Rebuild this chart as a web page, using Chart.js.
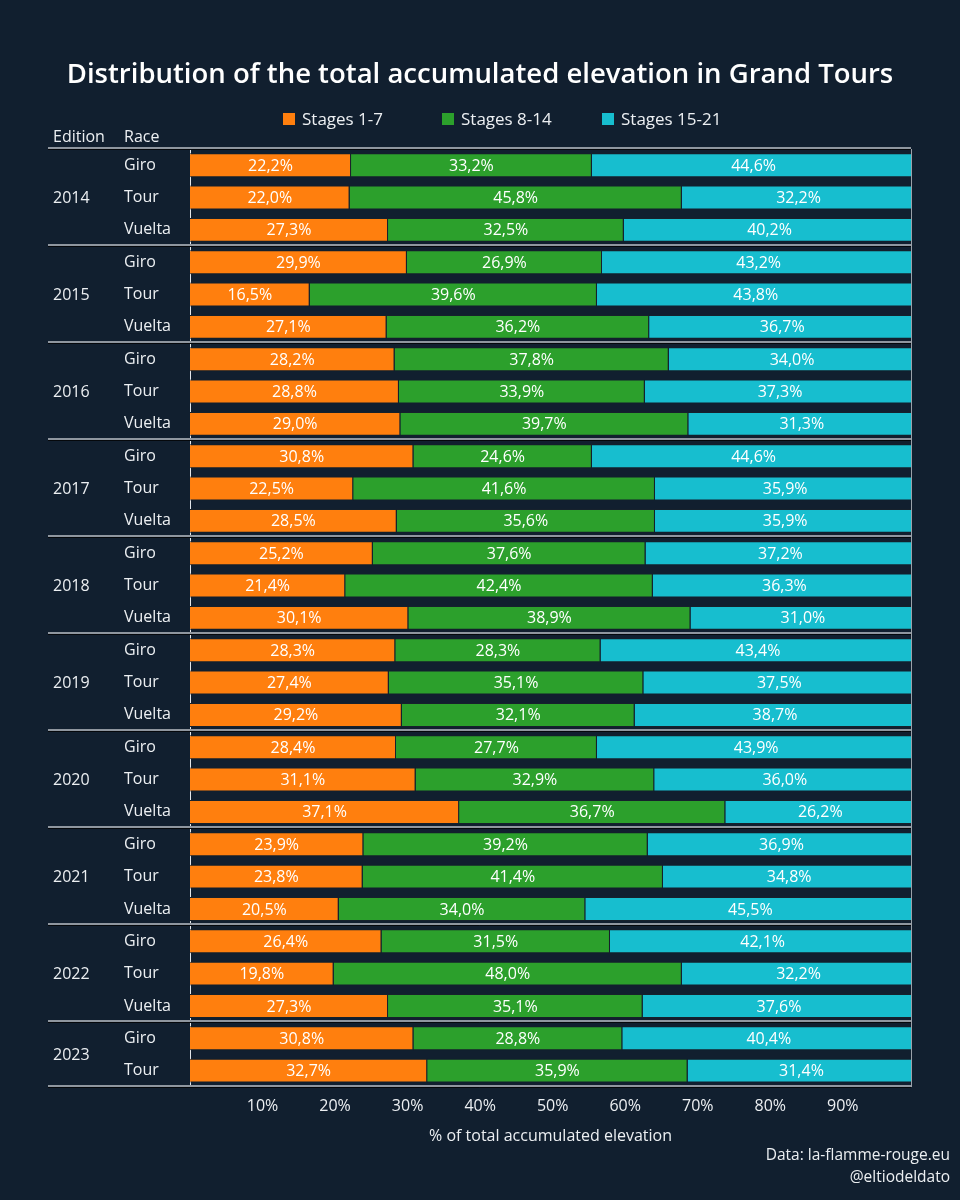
<!DOCTYPE html>
<html>
<head>
<meta charset="utf-8">
<title>Grand Tours elevation</title>
<script src="https://cdn.jsdelivr.net/npm/chart.js@4.4.0/dist/chart.umd.min.js"></script>
<style>
  html, body { margin: 0; background: #111f2f; }
  #wrap { width: 960px; height: 1200px; position: relative; }
</style>
</head>
<body>
<div id="wrap"><canvas id="chart"></canvas></div>
<script>
const editions = ['2014', '2015', '2016', '2017', '2018', '2019', '2020', '2021', '2022', '2023'];
const racesPerEdition = [3, 3, 3, 3, 3, 3, 3, 3, 3, 2];
const races = [
  'Giro', 'Tour', 'Vuelta', 'Giro', 'Tour', 'Vuelta', 'Giro', 'Tour', 'Vuelta',
  'Giro', 'Tour', 'Vuelta', 'Giro', 'Tour', 'Vuelta', 'Giro', 'Tour', 'Vuelta',
  'Giro', 'Tour', 'Vuelta', 'Giro', 'Tour', 'Vuelta', 'Giro', 'Tour', 'Vuelta',
  'Giro', 'Tour'
];
const stages1to7 = [22.2, 22.0, 27.3, 29.9, 16.5, 27.1, 28.2, 28.8, 29.0, 30.8, 22.5, 28.5, 25.2, 21.4, 30.1,
  28.3, 27.4, 29.2, 28.4, 31.1, 37.1, 23.9, 23.8, 20.5, 26.4, 19.8, 27.3, 30.8, 32.7];
const stages8to14 = [33.2, 45.8, 32.5, 26.9, 39.6, 36.2, 37.8, 33.9, 39.7, 24.6, 41.6, 35.6, 37.6, 42.4, 38.9,
  28.3, 35.1, 32.1, 27.7, 32.9, 36.7, 39.2, 41.4, 34.0, 31.5, 48.0, 35.1, 28.8, 35.9];
const stages15to21 = [44.6, 32.2, 40.2, 43.2, 43.8, 36.7, 34.0, 37.3, 31.3, 44.6, 35.9, 35.9, 37.2, 36.3, 31.0,
  43.4, 37.5, 38.7, 43.9, 36.0, 26.2, 36.9, 34.8, 45.5, 42.1, 32.2, 37.6, 40.4, 31.4];
const seriesNames = ['Stages 1-7', 'Stages 8-14', 'Stages 15-21'];
const seriesColors = ['#ff7f0e', '#2ca02c', '#17becf'];
const xTicks = [10, 20, 30, 40, 50, 60, 70, 80, 90];

const FONT = '"Open Sans", "Noto Sans", sans-serif';
const TEXT = '#eceff2';
const legendX = [283, 442, 602];

// middle row of each edition, used for the edition labels
let acc = 0;
const editionRows = racesPerEdition.map(n => { const mid = acc + (n - 1) / 2; acc += n; return mid; });

const fmt = v => v.toFixed(1).replace('.', ',') + '%';

const tablePlugin = {
  id: 'tableDecor',
  afterDatasetsDraw(chart) {
    const ctx = chart.ctx;
    ctx.save();
    ctx.font = `16px ${FONT}`;
    ctx.fillStyle = '#ffffff';
    ctx.textAlign = 'center';
    ctx.textBaseline = 'middle';
    chart.data.datasets.forEach((ds, i) => {
      chart.getDatasetMeta(i).data.forEach((bar, j) => {
        const p = bar.getProps(['x', 'y', 'base'], true);
        ctx.fillText(fmt(ds.data[j]), (p.x + p.base) / 2, p.y + 1);
      });
    });
    ctx.restore();
  },
  afterDraw(chart) {
    const {ctx, chartArea} = chart;
    const y = chart.scales.y;
    ctx.save();

    // header + edition labels
    ctx.font = `16px ${FONT}`;
    ctx.fillStyle = TEXT;
    ctx.textBaseline = 'middle';
    ctx.textAlign = 'left';
    ctx.fillText('Edition', 53, chartArea.top - 12);
    ctx.fillText('Race', y.left, chartArea.top - 12);
    editions.forEach((ed, i) => {
      ctx.fillText(ed, 53, y.getPixelForValue(editionRows[i]) + 1);
    });

    // group separators
    let k = 0;
    const bounds = [0];
    racesPerEdition.forEach(n => { k += n; bounds.push(k); });
    bounds.forEach(b => {
      const py = Math.round(y.getPixelForValue(b - 0.5));
      ctx.strokeStyle = '#8f969f';
      ctx.lineWidth = 2;
      ctx.beginPath();
      ctx.moveTo(48, py - 1);
      ctx.lineTo(chartArea.right, py - 1);
      ctx.stroke();
      ctx.strokeStyle = '#05080c';
      ctx.lineWidth = 1;
      ctx.beginPath();
      ctx.moveTo(48, py + 0.5);
      ctx.lineTo(chartArea.right, py + 0.5);
      ctx.stroke();
    });

    // legend
    ctx.font = `17px ${FONT}`;
    ctx.textAlign = 'left';
    const ly = 119;
    seriesNames.forEach((name, i) => {
      ctx.fillStyle = seriesColors[i];
      ctx.fillRect(legendX[i], ly - 6, 12, 12);
      ctx.fillStyle = TEXT;
      ctx.fillText(name, legendX[i] + 19, ly + 1);
    });

    // source
    ctx.font = `15.5px ${FONT}`;
    ctx.textAlign = 'right';
    ctx.fillText('Data: la-flamme-rouge.eu', 950, 1156);
    ctx.fillText('@eltiodeldato', 950, 1178);
    ctx.restore();
  }
};

new Chart(document.getElementById('chart'), {
  type: 'bar',
  data: {
    labels: races,
    datasets: [stages1to7, stages8to14, stages15to21].map((d, i) => ({
      label: seriesNames[i],
      data: d,
      backgroundColor: seriesColors[i],
      borderColor: '#16212c',
      borderWidth: 1,
      clip: 0,
      categoryPercentage: 1,
      barPercentage: 0.74
    }))
  },
  options: {
    indexAxis: 'y',
    responsive: true,
    maintainAspectRatio: false,
    animation: false,
    layout: { padding: { top: 0, left: 0, right: 0, bottom: 50 } },
    plugins: {
      legend: { display: false },
      tooltip: { enabled: false },
      title: {
        display: true,
        text: 'Distribution of the total accumulated elevation in Grand Tours',
        color: '#ffffff',
        font: { family: FONT, size: 27.5, weight: '600' },
        padding: { top: 58.5, bottom: 57.5 }
      }
    },
    scales: {
      x: {
        stacked: true,
        min: 0,
        max: 99.4,
        afterBuildTicks: s => { s.ticks = xTicks.map(v => ({ value: v })); },
        grid: { display: false, drawTicks: false },
        border: { display: false },
        ticks: { callback: v => v + '%', color: TEXT, font: { family: FONT, size: 16 }, padding: 10.4, maxRotation: 0 },
        title: {
          display: true,
          text: '% of total accumulated elevation',
          color: TEXT,
          font: { family: FONT, size: 16 },
          padding: { top: 0, bottom: 4 }
        }
      },
      y: {
        stacked: true,
        position: 'left',
        weight: 0,
        grid: { display: false, drawTicks: false },
        border: { display: true, color: '#e3e6ea', width: 1 },
        ticks: { crossAlign: 'far', color: TEXT, font: { family: FONT, size: 16 }, padding: 0, autoSkip: false },
        afterFit: s => { s.width = 66; }
      },
      padLeft: {
        type: 'linear',
        position: 'left',
        weight: 1,
        grid: { display: false, drawTicks: false },
        border: { display: false },
        ticks: { display: false },
        afterFit: s => { s.width = 124; }
      },
      padRight: {
        type: 'linear',
        position: 'right',
        grid: { display: false, drawTicks: false },
        border: { display: true, color: '#9aa1a9', width: 1 },
        ticks: { display: false },
        afterFit: s => { s.width = 49; }
      }
    }
  },
  plugins: [tablePlugin]
});
</script>
</body>
</html>
